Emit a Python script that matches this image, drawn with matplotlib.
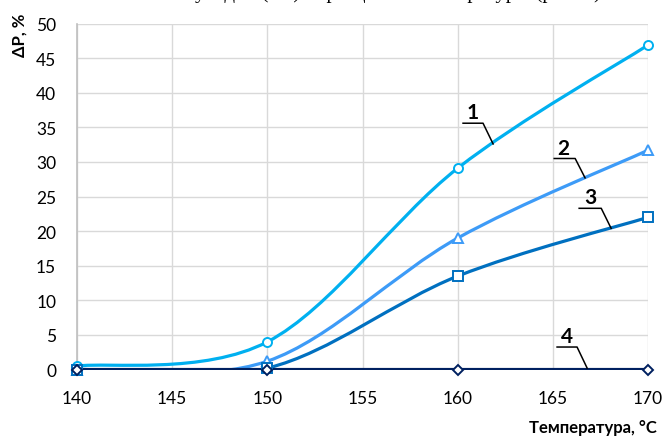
import numpy as np
import matplotlib.pyplot as plt
from matplotlib.path import Path
from matplotlib.patches import PathPatch

plt.rcParams['font.family'] = ['Lato', 'DejaVu Sans']

# temperature, deg C
temps = [140, 150, 160, 170]
# dP, % for samples 1..4
dp1 = [0.5, 4.0, 29.1, 46.9]
dp2 = [0.0, 1.2, 19.0, 31.7]
dp3 = [0.0, 0.2, 13.5, 22.0]
dp4 = [0.0, 0.0, 0.0, 0.0]

series = [
    (dp1, '#00B0F0', 'o'),
    (dp2, '#3D9BF7', '^'),
    (dp3, '#0070C0', 's'),
    (dp4, '#002060', 'D'),
]

# number label, text pos, underline x-range, leader end
labels = [
    ('1', (160.8, 37.2), (160.28, 161.33, 35.6), (161.86, 32.6)),
    ('2', (165.55, 32.0), (165.07, 166.17, 30.5), (166.69, 27.7)),
    ('3', (166.95, 25.0), (166.38, 167.54, 23.3), (168.06, 20.4)),
    ('4', (165.75, 4.9), (165.22, 166.27, 3.25), (166.8, 0.2)),
]


def smooth_path(x, y):
    # bezier through the points, control points from neighbours (1/6 rule)
    x = np.asarray(x, float)
    y = np.asarray(y, float)
    p = np.column_stack([x, y])
    pts = np.vstack([p[0], p, p[-1]])
    verts = [p[0]]
    codes = [Path.MOVETO]
    for i in range(len(p) - 1):
        a, b, c, d = pts[i], pts[i + 1], pts[i + 2], pts[i + 3]
        c1 = b + (c - a) / 6
        c2 = c - (d - b) / 6
        verts += [c1, c2, c]
        codes += [Path.CURVE4] * 3
    return Path(verts, codes)


fig = plt.figure(figsize=(6.64, 4.39), dpi=100)
ax = fig.add_axes([0.116, 0.156, 0.860, 0.788])

for vals, col, mk in series:
    ax.add_patch(PathPatch(smooth_path(temps, vals), fill=False,
                           edgecolor=col, lw=2.3, capstyle='round', zorder=3))
    ax.plot(temps, vals, linestyle='none', marker=mk,
            ms=6.5 if mk != 'D' else 5.5, mfc='white', mec=col, mew=1.4,
            zorder=4, clip_on=False)

for txt, (tx, ty), (ux0, ux1, uy), (lx, ly) in labels:
    ax.text(tx, ty, txt, fontsize=15, fontweight='bold', ha='center',
            va='center', zorder=5)
    ax.plot([ux0, ux1, lx], [uy, uy, ly], color='black', lw=1.1, zorder=5)

ax.set_xlim(140, 170)
ax.set_ylim(0, 50)
ax.set_xticks(range(140, 171, 5))
ax.set_yticks(range(0, 51, 5))
ax.grid(True, color='#D9D9D9', lw=1.0)
ax.set_axisbelow(True)
ax.tick_params(length=0, labelsize=12.5)
ax.tick_params(axis='y', pad=15)
ax.tick_params(axis='x', pad=15)
for s in ['top', 'right', 'bottom']:
    ax.spines[s].set_visible(False)
ax.spines['left'].set_color('#BFBFBF')
ax.spines['left'].set_linewidth(1.2)

fig.text(0.029, 0.970, 'ΔP, %', rotation=90, fontsize=12, fontweight='bold',
         ha='center', va='top')
fig.text(0.99, 0.006, 'Температура, °С', fontsize=12, fontweight='bold',
         ha='right', va='bottom')

# caption of the figure above, cut by the page edge
fig.text(0.60, 1.016, 'усадки (ΔP) образцов от температуры (рис. 3)',
         fontsize=15, family='Liberation Serif', ha='center', va='center')

fig.savefig('out.png', dpi=100)
